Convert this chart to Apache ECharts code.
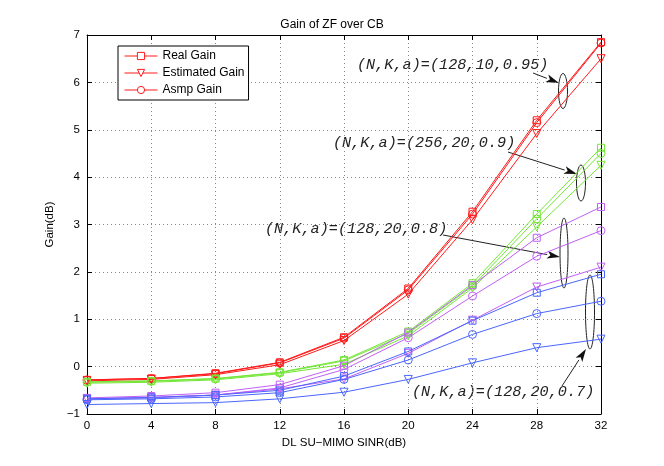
<!DOCTYPE html>
<html>
<head>
<meta charset="utf-8">
<script src="https://cdn.jsdelivr.net/npm/echarts@6/dist/echarts.min.js"></script>
<style>
  html, body { margin: 0; background: #fff; }
  #main { width: 664px; height: 466px; }
</style>
</head>
<body>
<div id="main"></div>
<script>
// SINR points on the x axis
const sinr = [0, 4, 8, 12, 16, 20, 24, 28, 32]

// (N,K,a) = (128,10,0.95)
const n128k10Real = [-0.28, -0.25, -0.14, 0.09, 0.62, 1.65, 3.27, 5.2, 6.85]
const n128k10Est = [-0.3, -0.27, -0.17, 0.04, 0.55, 1.53, 3.1, 4.92, 6.5]
const n128k10Asmp = [-0.28, -0.25, -0.15, 0.08, 0.6, 1.62, 3.22, 5.15, 6.83]

// (N,K,a) = (256,20,0.9)
const n256k20Real = [-0.32, -0.3, -0.25, -0.12, 0.14, 0.74, 1.76, 3.22, 4.62]
const n256k20Est = [-0.35, -0.33, -0.28, -0.15, 0.05, 0.65, 1.66, 2.95, 4.25]
const n256k20Asmp = [-0.33, -0.31, -0.26, -0.13, 0.12, 0.7, 1.7, 3.12, 4.5]

// (N,K,a) = (128,20,0.8)
const n128a08Real = [-0.66, -0.62, -0.55, -0.38, 0.02, 0.72, 1.72, 2.72, 3.37]
const n128a08Est = [-0.68, -0.66, -0.6, -0.47, -0.26, 0.28, 0.98, 1.68, 2.1]
const n128a08Asmp = [-0.68, -0.65, -0.6, -0.45, -0.06, 0.61, 1.49, 2.33, 2.87]

// (N,K,a) = (128,20,0.7)
const n128a07Real = [-0.68, -0.65, -0.6, -0.5, -0.2, 0.32, 0.97, 1.56, 1.95]
const n128a07Est = [-0.8, -0.78, -0.76, -0.68, -0.54, -0.27, 0.08, 0.4, 0.58]
const n128a07Asmp = [-0.7, -0.68, -0.64, -0.55, -0.27, 0.14, 0.68, 1.12, 1.38]

const legendNames = ['Real Gain', 'Estimated Gain', 'Asmp Gain']
const annotationLabels = [
  '(N,K,a)=(128,10,0.95)',
  '(N,K,a)=(256,20,0.9)',
  '(N,K,a)=(128,20,0.8)',
  '(N,K,a)=(128,20,0.7)',
]

const groups = [
  { color: '#ff1a1a', sets: [n128k10Real, n128k10Est, n128k10Asmp] },
  { color: '#74e636', sets: [n256k20Real, n256k20Est, n256k20Asmp] },
  { color: '#c060f5', sets: [n128a08Real, n128a08Est, n128a08Asmp] },
  { color: '#4a66ff', sets: [n128a07Real, n128a07Est, n128a07Asmp] },
]
const markers = [
  { symbol: 'rect', rotate: 0, size: 7 },
  { symbol: 'triangle', rotate: 180, size: 8 },
  { symbol: 'circle', rotate: 0, size: 8 },
]

const series = []
groups.forEach(g => {
  g.sets.forEach((vals, k) => {
    series.push({
      name: legendNames[k],
      type: 'line',
      data: sinr.map((x, i) => [x, vals[i]]),
      symbol: markers[k].symbol,
      symbolRotate: markers[k].rotate,
      symbolSize: markers[k].size,
      showAllSymbol: true,
      lineStyle: { color: g.color, width: 1 },
      itemStyle: { color: 'rgba(0,0,0,0)', borderColor: g.color, borderWidth: 1 },
      emphasis: { disabled: true },
      animation: false,
    })
  })
})

function arrow(x1, y1, x2, y2) {
  const ang = Math.atan2(y2 - y1, x2 - x1)
  const len = 13, half = 4
  const bx = x2 - len * Math.cos(ang), by = y2 - len * Math.sin(ang)
  const px = -Math.sin(ang) * half, py = Math.cos(ang) * half
  return [
    { type: 'line', shape: { x1, y1, x2: bx, y2: by }, style: { stroke: '#222', lineWidth: 1 } },
    {
      type: 'polygon',
      shape: { points: [[x2, y2], [bx + px, by + py], [bx + len * 0.25 * Math.cos(ang), by + len * 0.25 * Math.sin(ang)], [bx - px, by - py]] },
      style: { fill: '#111' },
    },
  ]
}
function ellipse(cx, cy, rx, ry) {
  return { type: 'ellipse', shape: { cx, cy, rx, ry }, style: { fill: 'none', stroke: '#222', lineWidth: 1 } }
}
function label(text, x, y) {
  return {
    type: 'text',
    style: {
      text, x, y,
      fontFamily: 'Liberation Mono', fontStyle: 'italic', fontSize: 15.2,
      fill: '#222', verticalAlign: 'middle',
    },
  }
}

const graphics = [
  label(annotationLabels[0], 357, 65),
  ...arrow(533, 73, 559, 83),
  ellipse(563, 91, 4.5, 17.5),
  label(annotationLabels[1], 333, 143),
  ...arrow(508, 152, 577, 174),
  ellipse(581, 183, 4.5, 18),
  label(annotationLabels[2], 265, 229),
  ...arrow(443, 235, 560, 257),
  ellipse(564, 253, 4, 35),
  label(annotationLabels[3], 412, 392),
  ...arrow(562, 386, 586, 349),
  ellipse(590, 312, 4.5, 37),
]

const baseFont = 'Liberation Sans'
const axisCommon = {
  type: 'value',
  axisLine: { show: true, onZero: false, lineStyle: { color: '#000', width: 1 } },
  axisTick: { show: true, inside: true, length: 5, lineStyle: { color: '#000' } },
}
const legendColor = groups[0].color

const myChart = echarts.init(document.getElementById('main'))
myChart.setOption({
  backgroundColor: '#fff',
  animation: false,
  title: {
    text: 'Gain of ZF over CB',
    left: 'center',
    top: 14,
    textStyle: { fontFamily: baseFont, fontSize: 12, fontWeight: 'normal', color: '#000' },
  },
  legend: {
    data: legendNames.map(name => ({
      name,
      itemStyle: { color: '#fff', borderColor: legendColor, borderWidth: 1 },
    })),
    orient: 'vertical',
    left: 118,
    top: 46,
    itemWidth: 33,
    itemHeight: 9,
    itemGap: 5,
    padding: [4, 4, 4, 6],
    borderColor: '#000',
    borderWidth: 1,
    backgroundColor: '#fff',
    lineStyle: { width: 1 },
    textStyle: { fontFamily: baseFont, fontSize: 12, color: '#000' },
  },
  grid: { left: 87, right: 63, top: 35, bottom: 52 },
  xAxis: [
    {
      ...axisCommon,
      min: 0, max: 32, interval: 4,
      name: 'DL SU\u2212MIMO SINR(dB)',
      nameLocation: 'middle',
      nameGap: 20,
      nameTextStyle: { fontFamily: baseFont, fontSize: 11.5, color: '#000' },
      axisLabel: { margin: 6, fontFamily: baseFont, fontSize: 11.5, color: '#000' },
      splitLine: { show: true, lineStyle: { type: [1, 3], color: '#888' } },
    },
    {
      ...axisCommon,
      position: 'top',
      min: 0, max: 32, interval: 4,
      axisLabel: { show: false },
      splitLine: { show: false },
    },
  ],
  yAxis: [
    {
      ...axisCommon,
      min: -1, max: 7, interval: 1,
      name: 'Gain(dB)',
      nameLocation: 'middle',
      nameGap: 27,
      nameTextStyle: { fontFamily: baseFont, fontSize: 11.5, color: '#000' },
      axisLabel: {
        margin: 7, fontFamily: baseFont, fontSize: 11.5, color: '#000',
        formatter: v => String(v).replace('-', '\u2212'),
      },
      splitLine: { show: true, lineStyle: { type: [1, 3], color: '#888' } },
    },
    {
      ...axisCommon,
      position: 'right',
      min: -1, max: 7, interval: 1,
      axisLabel: { show: false },
      splitLine: { show: false },
    },
  ],
  series,
  graphic: graphics,
})
</script>
</body>
</html>
